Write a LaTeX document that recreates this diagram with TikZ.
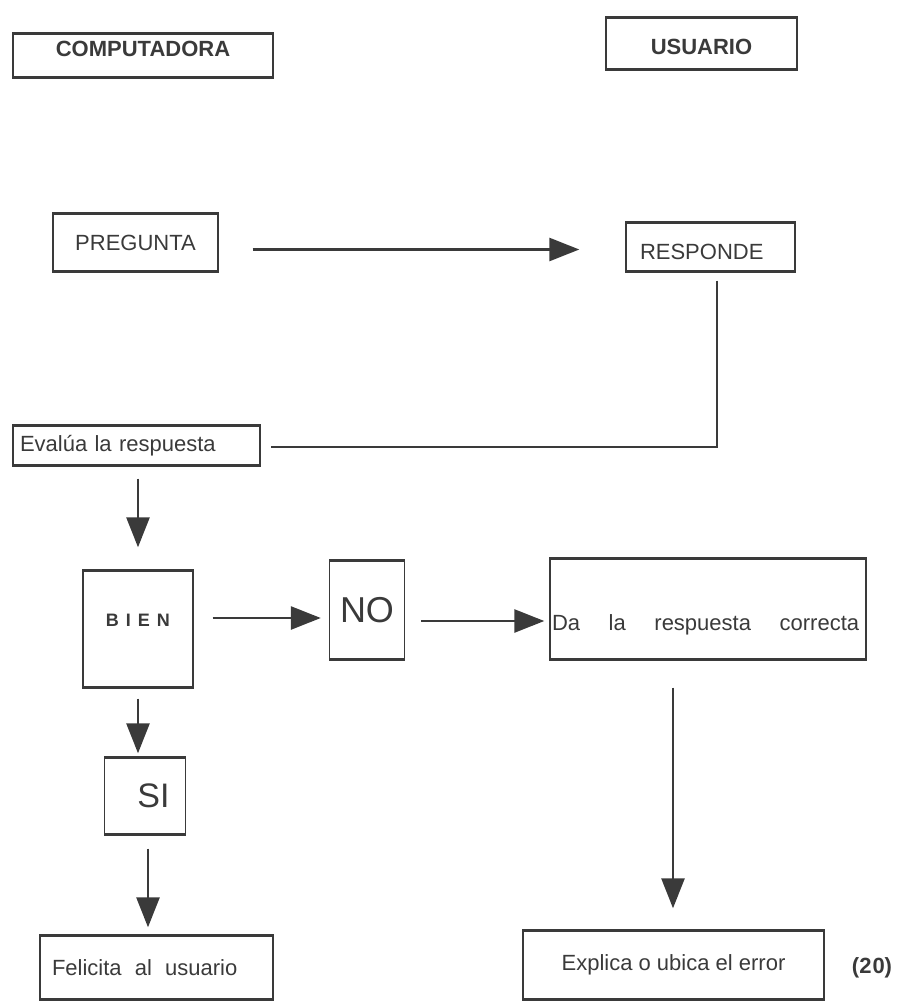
\documentclass[tikz,border=0pt]{standalone}
\usepackage{fontspec}
\setmainfont{Liberation Sans}
\usepackage{tikz}
\usetikzlibrary{arrows.meta,calc}
\definecolor{ink}{HTML}{3A3A3A}

\begin{document}
\begin{tikzpicture}[
      x=1pt, y=-1pt,
      every node/.style={font=\fontsize{22}{26}\selectfont, text=ink},
      box/.style={draw=ink, line width=1.4pt, inner sep=0pt,
        path picture={\draw[ink, line width=3.6pt]
          (path picture bounding box.north west) -- (path picture bounding box.north east)
          (path picture bounding box.south west) -- (path picture bounding box.south east);}},
      arr/.style={draw=ink, line width=2.7pt, -{Triangle[length=30pt,width=23pt]}},
      wire/.style={draw=ink, line width=2pt}
  ]
    \useasboundingbox (0,0) rectangle (906,1003);

    \node[box, minimum width=260pt, minimum height=45pt, text height=2pt, text depth=0pt]
      (comp) at (143,55.5) {\textbf{COMPUTADORA}};
    \node[box, minimum width=191pt, minimum height=53pt, text height=22pt, text depth=0pt]
      (usu) at (701.5,43.5) {\textbf{USUARIO}};

    \node[box, minimum width=165pt, minimum height=59pt] (preg) at (135.5,242.5) {PREGUNTA};
    \node[box, minimum width=169pt, minimum height=50pt, text height=24pt, text depth=0pt,
      text width=141pt, align=left] (resp) at (710.5,247) {RESPONDE};
    \node[box, minimum width=247pt, minimum height=41pt, text width=233pt, align=left]
      (eval) at (136.5,445.5) {Evalúa la respuesta};

    \node[box, minimum width=110pt, minimum height=118pt, text height=0pt, text depth=5pt]
      (bien) at (138,629) {\fontsize{18}{20}\selectfont\bfseries B\kern7pt I\kern7pt E\kern7pt N};
    \node[box, minimum width=75pt, minimum height=100pt] (no) at (367,610) {\fontsize{36}{40}\selectfont NO};
    \node[box, minimum width=316pt, minimum height=102pt, text height=42pt, text depth=0pt,
      text width=312pt, align=left] (da) at (708,609)
      {Da\hspace{1.3em}la\hspace{1.3em}respuesta\hspace{1.3em}correcta};

    \node[box, minimum width=81pt, minimum height=78pt, text width=49pt, align=right]
      (si) at (145,796) {\fontsize{34}{38}\selectfont SI};
    \node[box, minimum width=233pt, minimum height=65pt, text width=209pt, align=left]
      (feli) at (156.5,967.5) {Felicita\hspace{0.6em}al\hspace{0.6em}usuario};
    \node[box, minimum width=301pt, minimum height=70pt] (expl) at (673.5,965) {Explica o ubica el error};
    \node[font=\fontsize{22}{26}\selectfont\bfseries] (num) at (872,968) {(2\kern1pt 0)};

    \draw[arr, shorten <=34pt, shorten >=46pt] ([yshift=-7pt]preg.east) -- ([yshift=-7pt]preg.east -| resp.west);
    \draw[wire, shorten <=8pt, shorten >=10pt] ([xshift=6pt]resp.south) |- ([yshift=-1.5pt]eval.east);
    \draw[arr, shorten <=12pt, shorten >=22pt] (eval.south -| bien.north) -- (bien.north);

    \draw[arr, shorten <=19pt, shorten >=8pt] ([yshift=11pt]bien.east) -- ([yshift=11pt]bien.east -| no.west);
    \draw[arr, shorten <=16pt, shorten >=5pt] ([yshift=-11pt]no.east) -- ([yshift=-11pt]no.east -| da.west);

    \draw[arr, shorten <=10pt, shorten >=3pt] (bien.south) -- (bien.south |- si.north);
    \draw[arr, shorten <=13pt, shorten >=7pt] ([xshift=3pt]si.south) -- ([xshift=3pt]si.south |- feli.north);
    \draw[arr, shorten <=27pt, shorten >=21pt] ([xshift=-35pt]da.south) -- ([xshift=-35pt]da.south |- expl.north);
  \end{tikzpicture}
\end{document}
